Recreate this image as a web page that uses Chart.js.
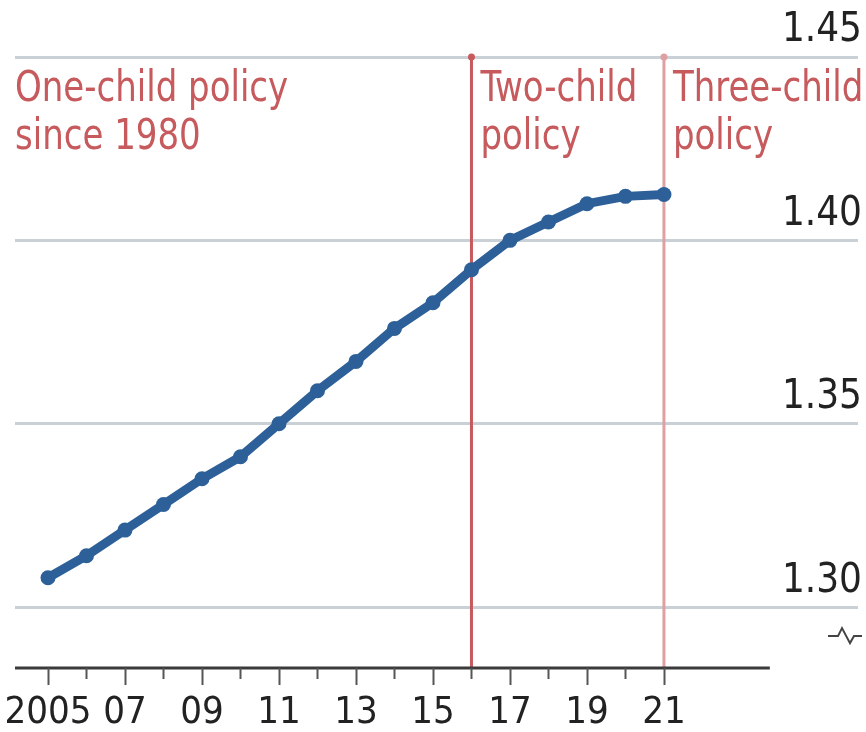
<!DOCTYPE html>
<html>
<head>
<meta charset="utf-8">
<script src="https://cdn.jsdelivr.net/npm/chart.js@4.4.1/dist/chart.umd.min.js"></script>
<style>
  html, body { margin: 0; padding: 0; background: #fff; }
  #wrap { width: 866px; height: 732px; }
</style>
</head>
<body>
<div id="wrap"><canvas id="fertChart"></canvas></div>
<script>
// data
const years = [2005, 2006, 2007, 2008, 2009, 2010, 2011, 2012, 2013, 2014, 2015, 2016, 2017, 2018, 2019, 2020, 2021];
const rate = [1.308, 1.314, 1.321, 1.328, 1.335, 1.341, 1.350, 1.359, 1.367, 1.376, 1.383, 1.392, 1.400, 1.405, 1.410, 1.412, 1.4125];
const yTicks = [1.30, 1.35, 1.40, 1.45];
const xLabels = { 2005: "2005", 2007: "07", 2009: "09", 2011: "11", 2013: "13", 2015: "15", 2017: "17", 2019: "19", 2021: "21" };
const policies = [
  { year: null, lines: ["One-child policy", "since 1980"] },
  { year: 2016, lines: ["Two-child", "policy"], color: "#c65a5d" },
  { year: 2021, lines: ["Three-child", "policy"], color: "#dfa0a2" }
];

const FONT = '"DejaVu Sans Condensed", "Liberation Sans Narrow", "Liberation Sans", sans-serif';
const RED = "#c65a5d";

// policy lines, axis line, ticks, break symbol and notes
const decor = {
  id: "decor",
  beforeDatasetsDraw(chart) {
    const { ctx, chartArea, scales: { x, y } } = chart;
    const top = y.getPixelForValue(1.45);
    const bottom = chartArea.bottom;
    ctx.save();
    policies.forEach(p => {
      if (p.year === null) return;
      const px = x.getPixelForValue(p.year);
      ctx.strokeStyle = p.color;
      ctx.lineWidth = 3;
      ctx.beginPath();
      ctx.moveTo(px, top);
      ctx.lineTo(px, bottom);
      ctx.stroke();
      ctx.fillStyle = p.color;
      ctx.beginPath();
      ctx.arc(px, top, 3.5, 0, Math.PI * 2);
      ctx.fill();
    });
    ctx.restore();
  },
  afterDraw(chart) {
    const { ctx, chartArea, scales: { x, y } } = chart;
    const bottom = chartArea.bottom;
    ctx.save();
    // x axis line
    ctx.strokeStyle = "#3a3a3a";
    ctx.lineWidth = 3;
    ctx.beginPath();
    ctx.moveTo(chartArea.left, bottom);
    ctx.lineTo(x.getPixelForValue(2023.75), bottom);
    ctx.stroke();
    // ticks
    ctx.strokeStyle = "#555";
    ctx.lineWidth = 2;
    years.forEach(yr => {
      const px = Math.round(x.getPixelForValue(yr)) + 0.5;
      const len = xLabels[yr] ? 17 : 11;
      ctx.beginPath();
      ctx.moveTo(px, bottom);
      ctx.lineTo(px, bottom + len);
      ctx.stroke();
    });
    // break symbol
    const by = y.getPixelForValue(1.30) + 29;
    ctx.strokeStyle = "#444";
    ctx.lineWidth = 2;
    ctx.beginPath();
    ctx.moveTo(828, by);
    ctx.lineTo(838, by);
    ctx.lineTo(842, by - 8);
    ctx.lineTo(850, by + 7);
    ctx.lineTo(854, by);
    ctx.lineTo(862, by);
    ctx.stroke();
    // notes
    ctx.font = "42px " + FONT;
    ctx.textBaseline = "alphabetic";
    ctx.textAlign = "left";
    const gy = y.getPixelForValue(1.45);
    policies.forEach(p => {
      const px = p.year === null ? chartArea.left : x.getPixelForValue(p.year) + 9;
      ctx.fillStyle = RED;
      p.lines.forEach((t, i) => {
        ctx.save();
        ctx.translate(px, gy + 44 + i * 48);
        ctx.scale(0.9, 1);
        ctx.fillText(t, 0, 0);
        ctx.restore();
      });
    });
    ctx.restore();
  }
};

new Chart(document.getElementById("fertChart"), {
  type: "line",
  data: {
    datasets: [{
      data: years.map((yr, i) => ({ x: yr, y: rate[i] })),
      borderColor: "#2d6098",
      backgroundColor: "#2d6098",
      borderWidth: 9,
      pointRadius: 7.5,
      pointHoverRadius: 7.5,
      pointBorderWidth: 0,
      tension: 0
    }]
  },
  options: {
    responsive: true,
    maintainAspectRatio: false,
    animation: false,
    layout: { padding: { left: 15, top: 57, right: 0, bottom: 0 } },
    plugins: { legend: { display: false }, tooltip: { enabled: false } },
    scales: {
      x: {
        type: "linear",
        min: 2004.143,
        max: 2026.04,
        afterBuildTicks: s => { s.ticks = years.map(v => ({ value: v })); },
        afterFit: s => { s.height = 64; s.paddingLeft = 0; s.paddingRight = 0; },
        grid: { display: false },
        border: { display: false },
        ticks: {
          autoSkip: false,
          maxRotation: 0,
          padding: 14,
          color: "#222",
          font: { family: FONT, size: 38 },
          callback: v => xLabels[v] || ""
        }
      },
      y: {
        position: "right",
        min: 1.2834,
        max: 1.45,
        afterBuildTicks: s => { s.ticks = yTicks.map(v => ({ value: v })); },
        grid: { color: "#c9d0d6", lineWidth: 3, drawTicks: false },
        border: { display: false },
        ticks: {
          mirror: true,
          padding: 4,
          labelOffset: -26,
          color: "#222",
          font: { family: FONT, size: 40 },
          callback: v => v.toFixed(2)
        }
      }
    }
  },
  plugins: [decor]
});
</script>
</body>
</html>
